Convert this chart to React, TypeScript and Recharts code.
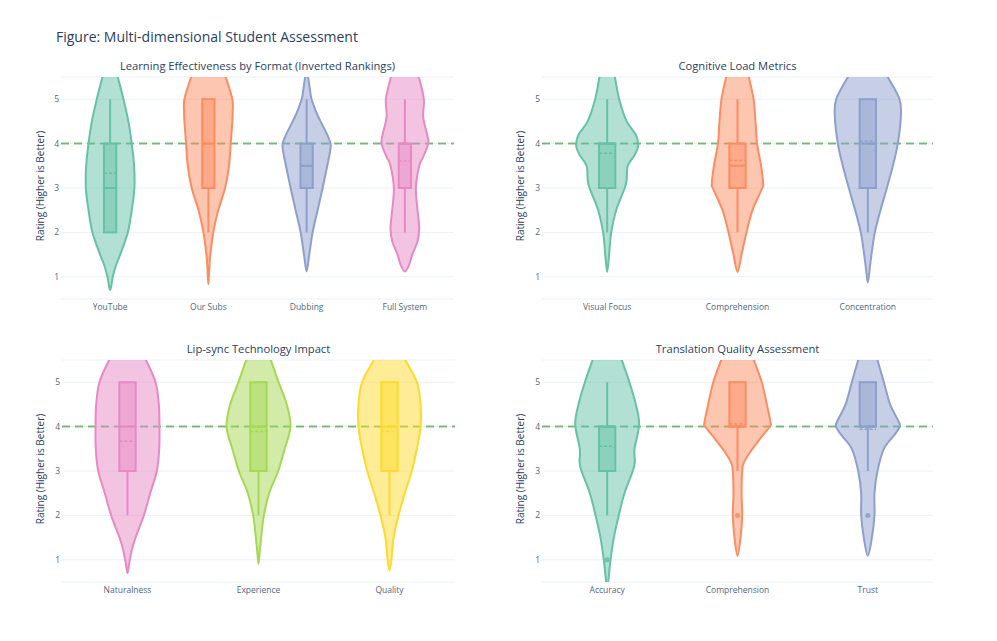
import React from 'react'
import { ComposedChart, Scatter, XAxis, YAxis, CartesianGrid, ReferenceLine } from 'recharts'

const FONT = '"Open Sans", sans-serif'
const TITLE_COLOR = '#2a3f5f'
const TICK_COLOR = '#506784'

// Set2 palette
const GREEN = '#66c2a5'
const ORANGE = '#fc8d62'
const BLUE = '#8da0cb'
const PINK = '#e78ac3'
const LIME = '#a6d854'
const YELLOW = '#ffd92f'

type Profile = [number, number][] // [rating, half width in category units]

// --- Learning effectiveness ---
const formatCats = ['YouTube', 'Our Subs', 'Dubbing', 'Full System']
const formatDensity: Profile[] = [
  [[5.75, 0.05], [5.5, 0.078], [5, 0.136], [4.5, 0.186], [4, 0.22], [3.5, 0.244], [3, 0.247], [2.5, 0.22], [2, 0.18], [1.5, 0.102], [1.25, 0.058], [1, 0.027], [0.8, 0.012], [0.7, 0]],
  [[5.75, 0.13], [5.5, 0.176], [5, 0.244], [4.7, 0.247], [4.5, 0.244], [4, 0.227], [3.5, 0.21], [3, 0.17], [2.5, 0.1], [2, 0.05], [1.5, 0.02], [1.2, 0.01], [0.83, 0]],
  [[5.56, 0], [5.5, 0.015], [5.2, 0.035], [5, 0.05], [4.7, 0.1], [4.5, 0.142], [4.2, 0.21], [4, 0.244], [3.8, 0.237], [3.5, 0.21], [3, 0.163], [2.5, 0.112], [2, 0.061], [1.5, 0.027], [1.12, 0]],
  [[5.75, 0.11], [5.5, 0.142], [5, 0.193], [4.6, 0.186], [4.2, 0.227], [4, 0.237], [3.7, 0.186], [3.5, 0.146], [3, 0.112], [2.5, 0.129], [2.1, 0.146], [1.8, 0.129], [1.5, 0.075], [1.25, 0.04], [1.12, 0]],
]
const formatQ1 = [2, 3, 3, 3]
const formatQ3 = [4, 5, 4, 4]
const formatMedian = [3, 4, 3.5, 4]
const formatMean = [3.33, 4.0, 3.5, 3.61]
const formatLow = [2, 2, 2, 2]
const formatHigh = [5, 5, 5, 5]

// --- Cognitive load ---
const cognitiveCats = ['Visual Focus', 'Comprehension', 'Concentration']
const cognitiveDensity: Profile[] = [
  [[5.75, 0.04], [5.5, 0.059], [5, 0.092], [4.5, 0.15], [4.2, 0.22], [3.95, 0.238], [3.75, 0.212], [3.5, 0.158], [3.2, 0.15], [3, 0.135], [2.5, 0.069], [2, 0.031], [1.5, 0.015], [1.11, 0]],
  [[5.75, 0.07], [5.5, 0.087], [5, 0.123], [4.5, 0.138], [4, 0.15], [3.5, 0.181], [3.1, 0.197], [3, 0.19], [2.5, 0.115], [2, 0.069], [1.5, 0.031], [1.11, 0]],
  [[5.75, 0.11], [5.5, 0.153], [5, 0.243], [4.6, 0.253], [4, 0.23], [3.5, 0.192], [3, 0.146], [2.5, 0.097], [2, 0.054], [1.5, 0.028], [1.2, 0.015], [0.87, 0]],
]
const cognitiveQ1 = [3, 3, 3]
const cognitiveQ3 = [4, 4, 5]
const cognitiveMedian = [4, 3.5, 4]
const cognitiveMean = [3.78, 3.62, 4.06]
const cognitiveLow = [2, 2, 2]
const cognitiveHigh = [5, 5, 5]

// --- Lip-sync ---
const lipCats = ['Naturalness', 'Experience', 'Quality']
const lipDensity: Profile[] = [
  [[5.75, 0.09], [5.5, 0.14], [5, 0.214], [4.5, 0.239], [4, 0.244], [3.5, 0.242], [3, 0.224], [2.5, 0.173], [2, 0.125], [1.5, 0.061], [1.2, 0.031], [0.9, 0.012], [0.7, 0]],
  [[5.75, 0.06], [5.5, 0.094], [5, 0.153], [4.5, 0.216], [4, 0.244], [3.5, 0.2], [3, 0.15], [2.5, 0.081], [2, 0.041], [1.5, 0.02], [1.2, 0.01], [0.91, 0]],
  [[5.75, 0.08], [5.5, 0.12], [5, 0.209], [4.5, 0.237], [4, 0.237], [3.5, 0.209], [3, 0.17], [2.5, 0.117], [2, 0.069], [1.5, 0.031], [1, 0.015], [0.76, 0]],
]
const lipQ1 = [3, 3, 3]
const lipQ3 = [5, 5, 5]
const lipMedian = [4, 4, 4]
const lipMean = [3.67, 3.89, 3.89]
const lipLow = [2, 2, 2]
const lipHigh = [5, 5, 5]

// --- Translation quality ---
const translationCats = ['Accuracy', 'Comprehension', 'Trust']
const translationDensity: Profile[] = [
  [[5.75, 0.08], [5.5, 0.112], [5, 0.171], [4.5, 0.22], [4.05, 0.245], [3.5, 0.21], [3.2, 0.212], [3, 0.197], [2.5, 0.133], [2, 0.089], [1.5, 0.051], [1, 0.026], [0.5, 0.008], [0.35, 0]],
  [[5.75, 0.09], [5.5, 0.125], [5, 0.186], [4.5, 0.225], [4.1, 0.253], [4, 0.248], [3.75, 0.18], [3.5, 0.115], [3.2, 0.05], [3, 0.036], [2.5, 0.031], [2, 0.036], [1.5, 0.023], [1.09, 0]],
  [[5.75, 0.05], [5.5, 0.074], [5, 0.123], [4.5, 0.171], [4.15, 0.23], [4, 0.245], [3.8, 0.2], [3.5, 0.123], [3, 0.074], [2.5, 0.051], [2, 0.051], [1.5, 0.031], [1.09, 0]],
]
const translationQ1 = [3, 4, 4]
const translationQ3 = [4, 5, 5]
const translationMedian = [4, 4, 4]
const translationMean = [3.56, 4.06, 3.94]
const translationLow = [2, 3, 3]
const translationHigh = [5, 5, 5]
const translationOutliers = [
  { x: 0, y: 1 },
  { x: 1, y: 2 },
  { x: 2, y: 2 },
]

const yTicks = [1, 2, 3, 4, 5]
const BOX_HALF = 0.0625

type Pt = { x: number; y: number }

// catmull-rom through the outline, closed with a straight edge (above the clip)
function smoothPath(pts: Pt[]) {
  const p = pts.filter((q) => q && q.x != null && q.y != null)
  if (p.length < 2) return ''
  let d = `M${p[0].x},${p[0].y}`
  for (let i = 0; i < p.length - 1; i++) {
    const p0 = p[i - 1] || p[i]
    const p1 = p[i]
    const p2 = p[i + 1]
    const p3 = p[i + 2] || p2
    const c1x = p1.x + (p2.x - p0.x) / 6
    const c1y = p1.y + (p2.y - p0.y) / 6
    const c2x = p2.x - (p3.x - p1.x) / 6
    const c2y = p2.y - (p3.y - p1.y) / 6
    d += `C${c1x},${c1y} ${c2x},${c2y} ${p2.x},${p2.y}`
  }
  return d + 'Z'
}

function violinPoints(profile: Profile, idx: number) {
  const right = profile.map(([y, w]) => ({ x: idx + w, y }))
  const left = profile
    .filter(([, w]) => w > 0)
    .map(([y, w]) => ({ x: idx - w, y }))
    .reverse()
  return [...right, ...left]
}

const nothing = () => <g />

interface PanelProps {
  left: number
  top: number
  width: number
  height: number
  plotLeft: number
  plotRight: number
  plotTop: number
  plotBottom: number
  title: string
  cats: string[]
  colors: string[]
  density: Profile[]
  q1: number[]
  q3: number[]
  median: number[]
  mean: number[]
  low: number[]
  high: number[]
  outliers?: Pt[]
}

function Panel(p: PanelProps) {
  const n = p.cats.length
  const xAxisHeight = 20
  const margin = {
    top: p.plotTop - p.top,
    right: p.left + p.width - p.plotRight,
    bottom: p.top + p.height - p.plotBottom - xAxisHeight,
    left: 0,
  }
  const midY = (p.plotTop + p.plotBottom) / 2
  return (
    <>
      <div
        style={{
          position: 'absolute',
          left: p.plotLeft,
          width: p.plotRight - p.plotLeft,
          top: p.plotTop - 18,
          textAlign: 'center',
          fontFamily: FONT,
          fontSize: 11.2,
          color: TITLE_COLOR,
          lineHeight: '14px',
        }}
      >
        {p.title}
      </div>
      <div
        style={{
          position: 'absolute',
          left: p.left + 40 - 100,
          top: midY - 9,
          width: 200,
          textAlign: 'center',
          transform: 'rotate(-90deg)',
          fontFamily: FONT,
          fontSize: 10,
          color: TITLE_COLOR,
          lineHeight: '14px',
        }}
      >
        Rating (Higher is Better)
      </div>
      <div style={{ position: 'absolute', left: p.left, top: p.top }}>
        <ComposedChart width={p.width} height={p.height} margin={margin}>
          <CartesianGrid horizontal vertical={false} stroke="#ebf0f8" strokeWidth={1} />
          <XAxis
            type="number"
            dataKey="x"
            domain={[-0.5, n - 0.5]}
            ticks={p.cats.map((_, i) => i)}
            tickFormatter={(v) => p.cats[v] ?? ''}
            allowDataOverflow
            axisLine={false}
            tickLine={false}
            tickSize={0}
            tickMargin={5}
            height={xAxisHeight}
            tick={{ fontSize: 8.5, fill: TICK_COLOR, fontFamily: FONT }}
          />
          <YAxis
            type="number"
            dataKey="y"
            domain={[0.5, 5.5]}
            ticks={yTicks}
            allowDataOverflow
            axisLine={false}
            tickLine={false}
            tickSize={0}
            tickMargin={2}
            width={p.plotLeft - p.left}
            tick={{ fontSize: 8.5, fill: TICK_COLOR, fontFamily: FONT }}
          />
          {p.density.map((profile, i) => (
            <Scatter
              key={`v${i}`}
              data={violinPoints(profile, i)}
              dataKey="y"
              isAnimationActive={false}
              shape={nothing}
              legendType="none"
              line={(lp: any) => (
                <path
                  d={smoothPath(lp.points)}
                  fill={p.colors[i]}
                  fillOpacity={0.5}
                  stroke={p.colors[i]}
                  strokeWidth={2}
                  strokeLinejoin="round"
                />
              )}
            />
          ))}
          {p.cats.map((_, i) => (
            <Scatter
              key={`b${i}`}
              data={[
                { x: i - BOX_HALF, y: p.q1[i] },
                { x: i + BOX_HALF, y: p.q3[i] },
                { x: i, y: p.median[i] },
                { x: i, y: p.mean[i] },
                { x: i, y: p.low[i] },
                { x: i, y: p.high[i] },
              ]}
              dataKey="y"
              isAnimationActive={false}
              shape={nothing}
              legendType="none"
              line={(lp: any) => {
                const [a, b, med, mu, lo, hi] = lp.points as Pt[]
                const c = p.colors[i]
                return (
                  <g>
                    <line x1={med.x} x2={med.x} y1={hi.y} y2={b.y} stroke={c} strokeWidth={2} />
                    <line x1={med.x} x2={med.x} y1={a.y} y2={lo.y} stroke={c} strokeWidth={2} />
                    <rect
                      x={a.x}
                      y={b.y}
                      width={b.x - a.x}
                      height={a.y - b.y}
                      fill={c}
                      fillOpacity={0.5}
                      stroke={c}
                      strokeWidth={2}
                    />
                    <line x1={a.x} x2={b.x} y1={med.y} y2={med.y} stroke={c} strokeWidth={2} />
                    <line x1={a.x} x2={b.x} y1={mu.y} y2={mu.y} stroke={c} strokeWidth={1.5} strokeDasharray="3 2" />
                  </g>
                )
              }}
            />
          ))}
          {p.outliers && (
            <Scatter
              data={p.outliers}
              dataKey="y"
              isAnimationActive={false}
              legendType="none"
              shape={(sp: any) => (
                <circle cx={sp.cx} cy={sp.cy} r={2.5} fill={p.colors[sp.payload.x]} fillOpacity={0.9} />
              )}
            />
          )}
          <ReferenceLine y={4} stroke="rgba(0,128,0,0.5)" strokeWidth={2} strokeDasharray="8 5" />
        </ComposedChart>
      </div>
    </>
  )
}

export default function App() {
  return (
    <div
      style={{
        position: 'absolute',
        left: 0,
        top: 0,
        width: 997,
        height: 641,
        background: '#fff',
        overflow: 'hidden',
      }}
    >
      <div
        style={{
          position: 'absolute',
          left: 56,
          top: 27,
          fontFamily: FONT,
          fontSize: 14,
          color: TITLE_COLOR,
          lineHeight: '20px',
        }}
      >
        Figure: Multi-dimensional Student Assessment
      </div>
      <Panel
        left={0} top={50} width={470} height={280}
        plotLeft={61} plotRight={454} plotTop={77} plotBottom={299}
        title="Learning Effectiveness by Format (Inverted Rankings)"
        cats={formatCats} colors={[GREEN, ORANGE, BLUE, PINK]} density={formatDensity}
        q1={formatQ1} q3={formatQ3} median={formatMedian} mean={formatMean} low={formatLow} high={formatHigh}
      />
      <Panel
        left={480} top={50} width={470} height={280}
        plotLeft={542} plotRight={933} plotTop={77} plotBottom={299}
        title="Cognitive Load Metrics"
        cats={cognitiveCats} colors={[GREEN, ORANGE, BLUE]} density={cognitiveDensity}
        q1={cognitiveQ1} q3={cognitiveQ3} median={cognitiveMedian} mean={cognitiveMean} low={cognitiveLow} high={cognitiveHigh}
      />
      <Panel
        left={0} top={333} width={470} height={280}
        plotLeft={62} plotRight={455} plotTop={360} plotBottom={582}
        title="Lip-sync Technology Impact"
        cats={lipCats} colors={[PINK, LIME, YELLOW]} density={lipDensity}
        q1={lipQ1} q3={lipQ3} median={lipMedian} mean={lipMean} low={lipLow} high={lipHigh}
      />
      <Panel
        left={480} top={333} width={470} height={280}
        plotLeft={542} plotRight={933} plotTop={360} plotBottom={582}
        title="Translation Quality Assessment"
        cats={translationCats} colors={[GREEN, ORANGE, BLUE]} density={translationDensity}
        q1={translationQ1} q3={translationQ3} median={translationMedian} mean={translationMean} low={translationLow} high={translationHigh}
        outliers={translationOutliers}
      />
    </div>
  )
}
